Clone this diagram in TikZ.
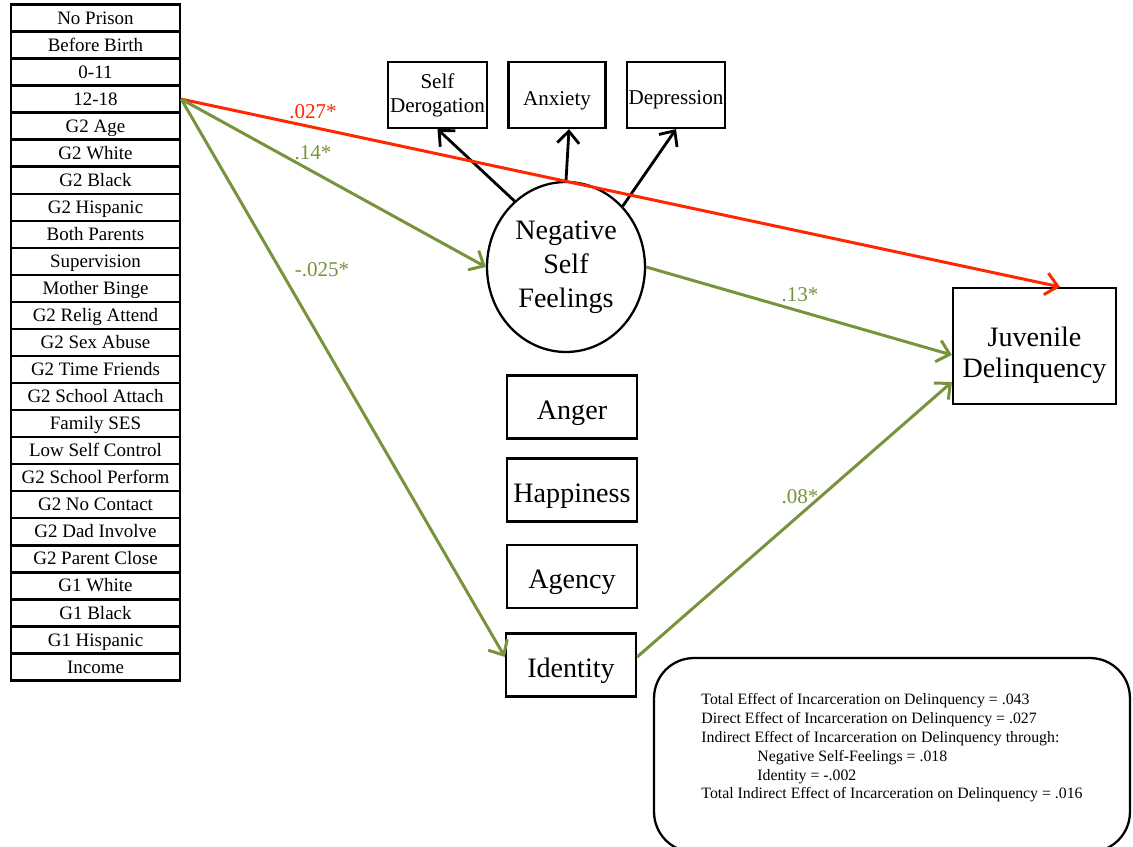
\documentclass[tikz,border=0pt]{standalone}
\usepackage{fontspec}
\setmainfont{Liberation Serif}
\usetikzlibrary{arrows.meta,shapes.geometric}
\definecolor{pathgreen}{RGB}{119,147,60}
\definecolor{pathred}{RGB}{255,38,0}

\begin{document}
\begin{tikzpicture}[x=0.02cm,y=-0.02cm,
  ctrl/.style={draw,line width=1.4pt,minimum width=3.38cm,minimum height=0.54cm,inner sep=0pt,
               text height=9.4pt,text depth=2.4pt,font=\fontsize{10.8}{12}\selectfont},
  indic/.style={draw,line width=1.3pt,minimum width=1.94cm,minimum height=1.32cm,inner sep=1pt,align=center,font=\fontsize{12}{13.6}\selectfont},
  medbox/.style={draw,line width=1.3pt,minimum width=2.6cm,minimum height=1.26cm,
                 text height=18pt,text depth=4pt,font=\fontsize{16}{18}\selectfont},
  latent/.style={draw,ellipse,line width=1.3pt,minimum width=3.16cm,minimum height=3.4cm,inner sep=0pt,align=center,font=\fontsize{16}{19.3}\selectfont},
  outbox/.style={draw,line width=1.3pt,minimum width=3.26cm,minimum height=2.32cm,align=center,
                 text height=39pt,font=\fontsize{16}{17.5}\selectfont},
  load/.style={line width=1.6pt,-{Straight Barb[length=2.4mm,width=4.4mm]}},
  gpath/.style={pathgreen,line width=1.7pt,-{Straight Barb[length=2.4mm,width=4.4mm]}},
  rpath/.style={pathred,line width=1.7pt,-{Straight Barb[length=2.4mm,width=4.4mm]}},
  coef/.style={font=\fontsize{12}{14}\selectfont}]
\useasboundingbox (0,0) rectangle (1133,847);

% Controls
\foreach \lbl [count=\i from 0] in {No Prison,Before Birth,0-11,12-18,G2 Age,G2 White,G2 Black,G2 Hispanic,Both Parents,Supervision,Mother Binge,G2 Relig Attend,G2 Sex Abuse,G2 Time Friends,G2 School Attach,Family SES,Low Self Control,G2 School Perform,G2 No Contact,G2 Dad Involve,G2 Parent Close,G1 White,G1 Black,G1 Hispanic,Income} {
    \node[ctrl] (c\i) at (95.5, {18+27.04*\i}) {\lbl};
}

% Negative self feelings and indicators
\node[latent] (neg) at (566, 267) {Negative\\Self\\Feelings};
\node[indic] (sd) at (437.5, 95) {Self\\Derogation};
\node[indic,text height=11.4pt,text depth=0pt] (anx) at (557, 95) {Anxiety};
\node[indic,text height=11pt,text depth=0pt] (dep) at (676, 95) {Depression};

% Mediators
\node[medbox] (ang) at (572, 407) {Anger};
\node[medbox] (hap) at (572, 490) {Happiness};
\node[medbox] (agn) at (572, 576.5) {Agency};
\node[medbox] (idn) at (571, 665) {Identity};

% Outcome
\node[outbox] (juv) at (1034.5, 346) {Juvenile\\Delinquency};

% Paths
\draw[load] (neg.128) -- (sd.south);
\draw[load] (neg.north) -- ([xshift=0.24cm]anx.south);
\draw[load] (neg.47) -- (dep.south);
\draw[rpath] (c3.east) -- ([xshift=0.51cm]juv.north);
\draw[gpath] (c3.east) -- (neg.west);
\draw[gpath] (c3.east) -- ([yshift=0.16cm]idn.west);
\draw[gpath] (neg.east) -- ([yshift=-0.18cm]juv.west);
\draw[gpath] ([yshift=0.16cm]idn.east) -- ([yshift=-0.72cm]juv.west);

% Coefficients
\node[coef,pathred] (b1) at (313, 112) {.027*};
\node[coef,pathgreen] (b2) at (313, 153) {.14*};
\node[coef,pathgreen] (b3) at (322, 270) {-.025*};
\node[coef,pathgreen] (b4) at (800, 295) {.13*};
\node[coef,pathgreen] (b5) at (800, 497) {.08*};

% Effects
\node[draw,line width=1.3pt,rounded corners=0.8cm,minimum width=9.52cm,minimum height=3.88cm,
      align=left,text height=52pt,font=\fontsize{9}{10.8}\selectfont] (eff) at (892, 755)
  {Total Effect of Incarceration on Delinquency = .043\\
   Direct Effect of Incarceration on Delinquency = .027\\
   Indirect Effect of Incarceration on Delinquency through:\\
   \hspace*{1.12cm}Negative Self-Feelings = .018\\
   \hspace*{1.12cm}Identity = -.002\\
   Total Indirect Effect of Incarceration on Delinquency = .016};
\end{tikzpicture}
\end{document}
